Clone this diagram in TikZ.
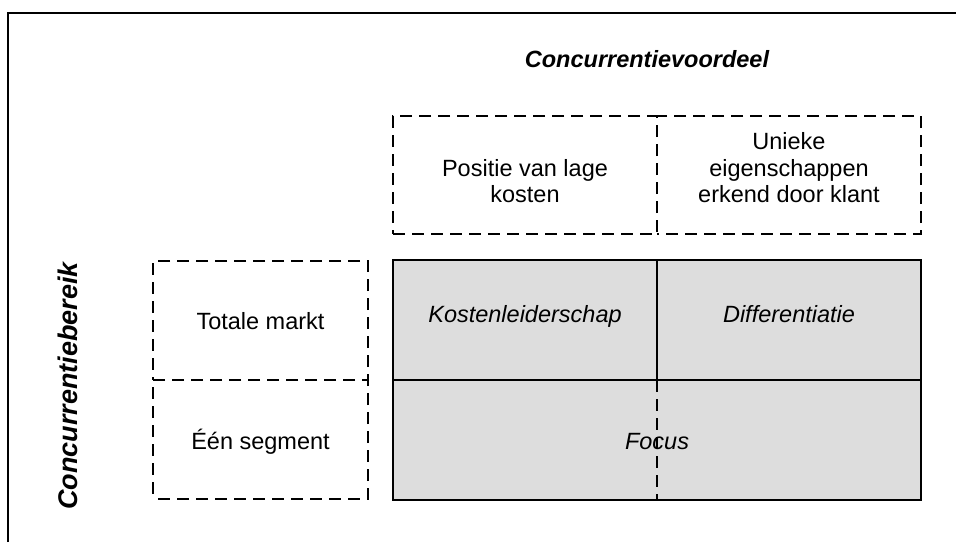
\documentclass[tikz,border=0pt]{standalone}
\usepackage{fontspec}
\setmainfont{Liberation Sans}
\definecolor{cellgray}{RGB}{221,221,221}
\begin{document}
\begin{tikzpicture}[x=1pt,y=-1pt,
  every node/.style={font=\fontsize{23.5}{26.5}\selectfont, inner sep=0pt, outer sep=0pt},
  dbox/.style={draw, dash pattern=on 12pt off 7pt, line width=2pt, rectangle},
  dline/.style={draw, dash pattern=on 12pt off 7pt, line width=2pt},
  cell/.style={draw, fill=cellgray, line width=2pt, rectangle},
  txt/.style={align=center},
  itxt/.style={font=\fontsize{23.5}{26.5}\selectfont\itshape},
  ttl/.style={font=\fontsize{23.5}{27}\selectfont\bfseries\itshape},
  vttl/.style={font=\fontsize{27}{30}\selectfont\bfseries\itshape},
  frame/.style={line width=2.5pt}]
\useasboundingbox (0,0) rectangle (956,542);
\draw[frame] (8,542) -- (8,13) -- (956,13);
\node[ttl, anchor=base] (adv) at (647,67) {Concurrentievoordeel};
\node[vttl, rotate=90] (scope) at (68,386) {Concurrentiebereik};
% top header boxes
\node[dbox, minimum width=264, minimum height=118] (pos) at (525,175) {};
\node[dbox, dash phase=10pt, minimum width=264, minimum height=118] (uni) at (789,175) {};
\node[txt, anchor=south] (posl) at ([yshift=-28pt]pos.center) {Positie van lage\\kosten};
\node[txt, anchor=south] (unil) at ([yshift=-28pt]uni.center) {Unieke\\eigenschappen\\erkend door klant};
% grid cells
\node[cell, minimum width=528, minimum height=120] (foc) at (657,440) {};
\node[cell, minimum width=264, minimum height=120] (kl) at (525,320) {};
\node[cell, minimum width=264, minimum height=120] (dif) at (789,320) {};
\node[itxt, anchor=base] (kll) at ([yshift=-2pt]kl.center) {Kostenleiderschap};
\node[itxt, anchor=base] (difl) at ([yshift=-2pt]dif.center) {Differentiatie};
\node[itxt, anchor=base] (focl) at ([yshift=-9pt]foc.center) {Focus};
\draw[dline] (kl.south east) -- (foc.south);
% left boxes
\node[dbox, minimum width=215, minimum height=119] (tot) at (260.5,320.5) {};
\node[dbox, dash phase=14pt, minimum width=215, minimum height=119] (een) at (260.5,439.5) {};
\node[anchor=base] (totl) at ([yshift=-8.5pt]tot.center) {Totale markt};
\node[anchor=base] (eenl) at ([yshift=-9.5pt]een.center) {Één segment};
\end{tikzpicture}
\end{document}
